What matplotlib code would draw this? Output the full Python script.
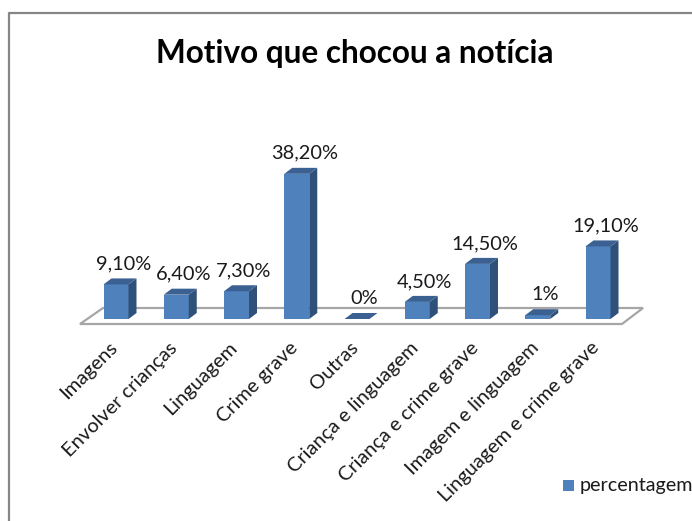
import numpy as np
import matplotlib
matplotlib.use('Agg')
import matplotlib.pyplot as plt
from matplotlib.patches import Polygon, Rectangle

plt.rcParams['font.family'] = ['Lato', 'DejaVu Sans']

categorias = ['Imagens', 'Envolver crianças', 'Linguagem', 'Crime grave', 'Outras',
              'Criança e linguagem', 'Criança e crime grave', 'Imagem e linguagem',
              'Linguagem e crime grave']
valores = [9.1, 6.4, 7.3, 38.2, 0, 4.5, 14.5, 1, 19.1]
rotulos = ['9,10%', '6,40%', '7,30%', '38,20%', '0%', '4,50%', '14,50%', '1%', '19,10%']

W, H = 692, 521
x0, passo = 116, 60.25   # pixel of first category, pixels per category
y0, esc = 319, 3.8       # pixel of zero, pixels per percent
larg = 25 / passo
dx, dy = 8 / passo, 6 / esc

fig = plt.figure(figsize=(W / 100, H / 100), dpi=100)
ax = fig.add_axes([0, 0, 1, 1])
ax.set_xlim(-x0 / passo, (W - x0) / passo)
ax.set_ylim((y0 - H) / esc, y0 / esc)
ax.axis('off')

def px(x, y):
    return (x - x0) / passo, (y0 - y) / esc

# outer chart frame
ax.plot(*zip(px(9, 521), px(9, 13), px(692, 13)), color='#868686', lw=1.6, zorder=1)

# floor
ax.add_patch(Polygon([px(80, 324), px(622, 324), px(643, 308), px(103, 308)],
                     closed=True, facecolor='white', edgecolor='#a6a6a6', lw=1.6, zorder=2))

for i, v in enumerate(valores):
    e, d = i - larg / 2, i + larg / 2
    ax.bar(i, v, width=larg, color='#4f81bd', zorder=3)
    ax.add_patch(Polygon([(d, 0), (d + dx, dy), (d + dx, v + dy), (d, v)],
                         closed=True, facecolor='#2f5078', edgecolor='none', zorder=3))
    ax.add_patch(Polygon([(e, v), (d, v), (d + dx, v + dy), (e + dx, v + dy)],
                         closed=True, facecolor='#3a6191', edgecolor='none', zorder=3))
    ax.text(i + 7.5 / passo, v + dy + 14.5 / esc, rotulos[i], ha='center', va='center',
            fontsize=14.4, color='#1a1a1a', zorder=4)
    ax.text(i - 0.13, -20 / esc, categorias[i], rotation=45, ha='right', va='top',
            rotation_mode='anchor', fontsize=14.4, color='#1a1a1a', zorder=4)

ax.text((355 - x0) / passo, (y0 - 53) / esc, 'Motivo que chocou a notícia', ha='center', va='center',
        fontsize=22.7, fontweight='bold', color='black')

# legend
lx, ly = px(563, 491)
ax.add_patch(Rectangle((lx, ly), 11 / passo, 11 / esc, facecolor='#4f81bd', edgecolor='none'))
ax.text((580 - x0) / passo, (y0 - 486) / esc, 'percentagem', ha='left', va='center',
        fontsize=14.2, color='#1a1a1a')

fig.savefig('out.png', dpi=100)
